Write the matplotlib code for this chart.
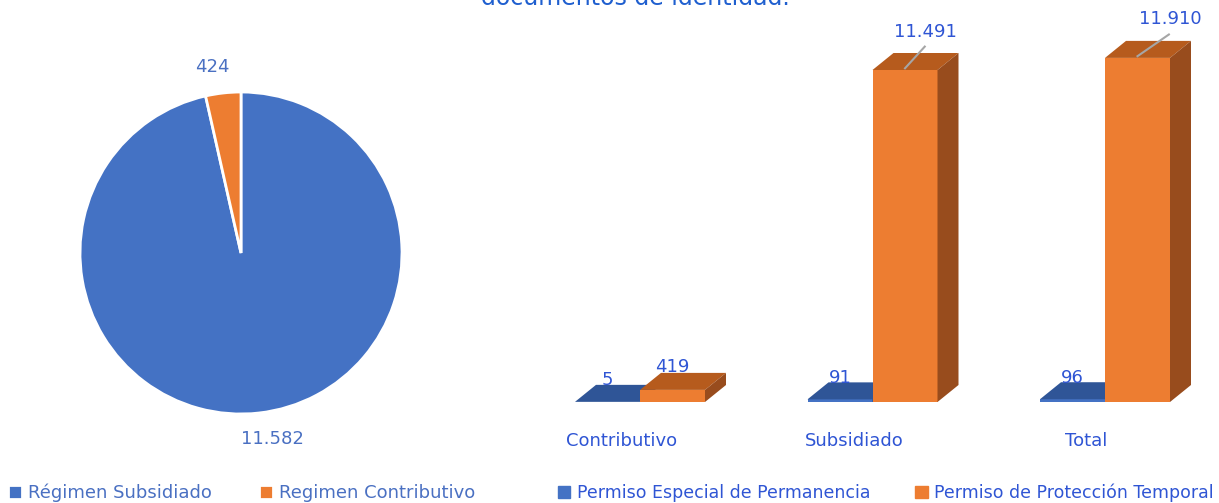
import matplotlib
matplotlib.use("Agg")
import matplotlib.pyplot as plt
from matplotlib.patches import Polygon

# datos
regimen = ["Régimen Subsidiado", "Regimen Contributivo"]
afiliados = [11582, 424]
afiliados_txt = ["11.582", "424"]

categorias = ["Contributivo", "Subsidiado", "Total"]
pep = [5, 91, 96]
ppt = [419, 11491, 11910]
pep_txt = ["5", "91", "96"]
ppt_txt = ["419", "11.491", "11.910"]
series = ["Permiso Especial de Permanencia", "Permiso de Protección Temporal"]

azul = "#4472C4"
naranja = "#ED7D31"
texto_azul = "#2F55D4"
texto_pie = "#4A70C2"

W, H = 1219, 503
fig = plt.figure(figsize=(W / 100, H / 100), dpi=100)

# titulo cortado arriba
fig.text(0.521, 1 - 5 / H, "documentos de identidad.", ha="center", va="baseline",
         fontsize=17, color="#1F5FCF")

# ---- torta ----
cx, cy, r = 241, 253, 161
ax1 = fig.add_axes([(cx - r) / W, (H - cy - r) / H, 2 * r / W, 2 * r / H])
wedges, textos = ax1.pie(afiliados, labels=afiliados_txt, colors=[azul, naranja],
                         startangle=90, counterclock=False, labeldistance=1.16,
                         wedgeprops=dict(edgecolor="white", linewidth=2),
                         textprops=dict(color=texto_pie, fontsize=13))
# pequeño corrimiento de las etiquetas como en el original
for t, corr in zip(textos, [11 / r, -8 / r]):
    x, y = t.get_position()
    t.set_position((x + corr, y))
    t.set_ha("center")
    t.set_va("center")
ax1.set_xlim(-1, 1)
ax1.set_ylim(-1, 1)
ax1.set_aspect("equal")

# ---- barras "3d" ----
base_px = 402
px_x = 232.5            # px por categoria
px_y = 332 / 11491      # px por unidad
x0_px = 640
ax2 = fig.add_axes([560 / W, (H - base_px) / H, (W - 560) / W, base_px / H])
ax2.set_xlim((560 - x0_px) / px_x, (W - x0_px) / px_x)
ax2.set_ylim(0, base_px / px_y)
ax2.axis("off")

ancho = 65 / px_x
dx = 21 / px_x
dy = 17 / px_y

def caja(x, h, frente, arriba, lado):
    ax2.bar(x, h, width=ancho, align="edge", color=frente, linewidth=0, zorder=2)
    ax2.add_patch(Polygon([(x, h), (x + ancho, h), (x + ancho + dx, h + dy), (x + dx, h + dy)],
                          closed=True, facecolor=arriba, edgecolor="none", zorder=2))
    ax2.add_patch(Polygon([(x + ancho, 0), (x + ancho + dx, dy), (x + ancho + dx, h + dy), (x + ancho, h)],
                          closed=True, facecolor=lado, edgecolor="none", zorder=2))

for i in range(len(categorias)):
    caja(i - ancho, pep[i], azul, "#2F5597", "#264781")
    caja(i, ppt[i], naranja, "#B65B1D", "#984C1D")
    # etiquetas
    ax2.text(i - ancho / 2, pep[i] + 750, pep_txt[i], ha="center", va="center",
             fontsize=13, color=texto_azul, zorder=3)
    if ppt[i] > 3000:
        lx = i + ancho / 2 + (0.09 if i == 1 else 0.14)
        ly = ppt[i] + 1330
        ax2.plot([i + ancho / 2, lx - 0.005], [ppt[i] + dy * 0.1, ly - 520],
                 color="#A6A6A6", lw=1.5, zorder=3)
        ax2.text(lx, ly, ppt_txt[i], ha="center", va="center", fontsize=13,
                 color=texto_azul, zorder=3)
    else:
        ax2.text(i + ancho / 2, ppt[i] + dy + 200, ppt_txt[i], ha="center", va="center",
                 fontsize=13, color=texto_azul, zorder=3)
    ax2.text(i - 0.08, -39 / px_y, categorias[i], ha="center", va="center",
             fontsize=13, color=texto_azul, clip_on=False)

# leyendas
fig.legend(wedges, regimen, loc="center left", bbox_to_anchor=(3 / W, 1 - 493 / H),
           ncol=2, frameon=False, fontsize=13, handlelength=0.75, handleheight=0.75,
           handletextpad=0.35, columnspacing=2.6, labelcolor=texto_pie,
           borderaxespad=0.0, borderpad=0.3)
h1 = plt.Rectangle((0, 0), 1, 1, color=azul)
h2 = plt.Rectangle((0, 0), 1, 1, color=naranja)
fig.legend([h1, h2], series, loc="center left", bbox_to_anchor=(542 / W, 1 - 493 / H),
           ncol=2, frameon=False, fontsize=12.5, handlelength=0.7, handleheight=0.7,
           handletextpad=0.4, columnspacing=2.6, labelcolor=texto_azul)

fig.savefig("out.png", dpi=100)
